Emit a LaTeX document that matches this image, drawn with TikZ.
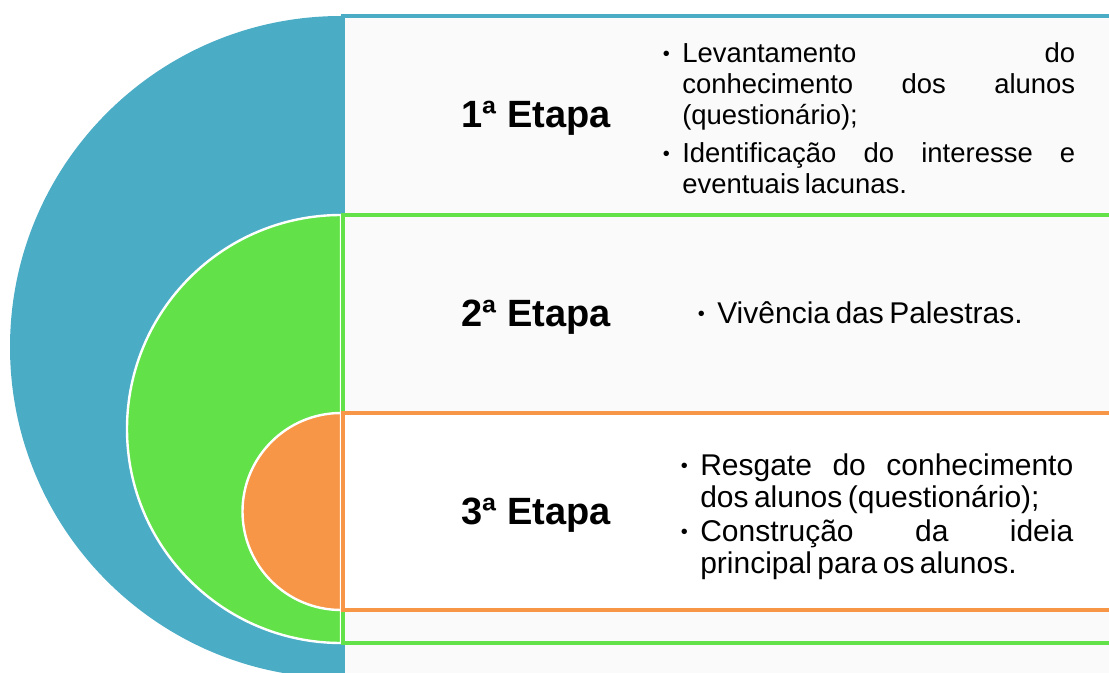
\documentclass[tikz,border=0pt]{standalone}
\usepackage{fontspec}
\setmainfont{Liberation Sans}[WordSpace=0.65]
\newfontfamily\etapafont{Liberation Sans}
\usepackage{xcolor}

\definecolor{azul}{HTML}{4BACC6}
\definecolor{verde}{HTML}{62E248}
\definecolor{laranja}{HTML}{F79646}
\definecolor{fundo}{HTML}{FAFAFA}

\tolerance=10000
\hyphenpenalty=10000

\newcommand{\marcador}{\raisebox{0.1em}{\fontsize{15}{15}\selectfont\textbullet}}
\newcommand{\topico}[1]{\hangindent=15pt\hangafter=1\noindent
  \hbox to 15pt{\kern0.5pt\marcador\hfil}#1\par}

\tikzset{
  meia/.style={draw=white, line width=1.8pt},
  caixa/.style={line width=3pt, fill=fundo},
  etapa/.style={anchor=base, font=\etapafont\bfseries\fontsize{28.5}{32}\selectfont},
  lista/.style={anchor=base west, inner sep=0pt, align=justify,
    font=\fontsize{20.6}{23.25}\selectfont},
  listab/.style={lista, font=\fontsize{22.5}{24.4}\selectfont},
}

\begin{document}
\begin{tikzpicture}[x=0.75pt,y=-0.75pt]
\useasboundingbox (0,0) rectangle (1109,673);
\clip (0,0) rectangle (1109,673);

% 1a etapa
\fill[azul] (341,16) arc[start angle=270,end angle=90,radius=331] -- cycle;
\draw[caixa, draw=azul] (343,16) rectangle (1130,700);
% 2a etapa
\filldraw[meia, fill=verde] (341,215) arc[start angle=270,end angle=90,radius=214] -- cycle;
\draw[caixa, draw=verde] (343,215) rectangle (1130,643);
% 3a etapa
\filldraw[meia, fill=laranja] (341,413) arc[start angle=270,end angle=90,radius=98.5] -- cycle;
\draw[caixa, draw=laranja, fill=white] (343,413) rectangle (1130,610);

\node[etapa]          (E1) at (536,128) {1ª Etapa};
\node[etapa]          (E2) at (536,326) {2ª Etapa};
\node[etapa]          (E3) at (536,524) {3ª Etapa};

\node[lista, text width=309.75pt]  (L1) at (662,63) {%
  \topico{Levantamento do\linebreak conhecimento dos alunos\linebreak (questionário);}
  \vspace{5.25pt}
  \topico{Identificação do interesse e\linebreak eventuais lacunas.}};
\node[listab, text width=285pt]    (L2) at (697,324) {%
  \topico{Vivência das Palestras.}};
\node[listab, text width=294.75pt] (L3) at (680,475) {%
  \topico{Resgate do conhecimento\linebreak dos alunos (questionário);}
  \vspace{0.75pt}
  \topico{Construção da ideia\linebreak principal para os alunos.}};

\end{tikzpicture}
\end{document}
